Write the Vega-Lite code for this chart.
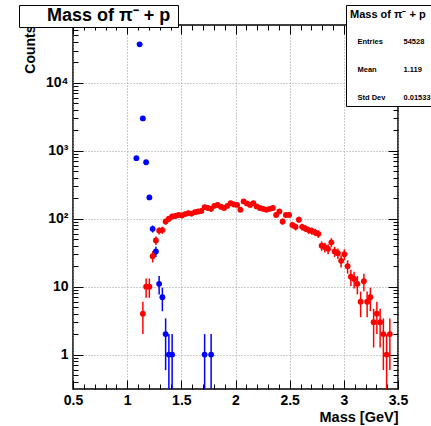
{
  "$schema": "https://vega.github.io/schema/vega-lite/v6.json",
  "width": 325,
  "height": 364,
  "autosize": "none",
  "padding": {"left": 73, "top": 25, "right": 33, "bottom": 37},
  "background": "white",
  "config": {"view": {"stroke": "black", "strokeWidth": 1.5}, "font": "Liberation Sans"},
  "datasets": {
    "hist": [
      {"s": "blue", "m": 1.085, "n": 780, "lo": 752.1, "hi": 807.9},
      {"s": "blue", "m": 1.115, "n": 37000, "lo": 36807.6, "hi": 37192.4},
      {"s": "blue", "m": 1.145, "n": 3000, "lo": 2945.2, "hi": 3054.8},
      {"s": "blue", "m": 1.175, "n": 680, "lo": 653.9, "hi": 706.1},
      {"s": "blue", "m": 1.205, "n": 206, "lo": 191.6, "hi": 220.4},
      {"s": "blue", "m": 1.235, "n": 71, "lo": 62.57, "hi": 79.43},
      {"s": "blue", "m": 1.265, "n": 33, "lo": 27.26, "hi": 38.74},
      {"s": "blue", "m": 1.295, "n": 11, "lo": 7.68, "hi": 14.32},
      {"s": "blue", "m": 1.325, "n": 7, "lo": 4.35, "hi": 9.65},
      {"s": "blue", "m": 1.355, "n": 2, "lo": 0.59, "hi": 3.41},
      {"s": "blue", "m": 1.385, "n": 1, "lo": 0, "hi": 2},
      {"s": "blue", "m": 1.415, "n": 1, "lo": 0, "hi": 2},
      {"s": "blue", "m": 1.715, "n": 1, "lo": 0, "hi": 2},
      {"s": "blue", "m": 1.775, "n": 1, "lo": 0, "hi": 2},
      {"s": "red", "m": 1.145, "n": 4, "lo": 2, "hi": 6},
      {"s": "red", "m": 1.175, "n": 10, "lo": 6.84, "hi": 13.16},
      {"s": "red", "m": 1.205, "n": 10, "lo": 6.84, "hi": 13.16},
      {"s": "red", "m": 1.235, "n": 28, "lo": 22.71, "hi": 33.29},
      {"s": "red", "m": 1.265, "n": 48, "lo": 41.07, "hi": 54.93},
      {"s": "red", "m": 1.295, "n": 67, "lo": 58.81, "hi": 75.19},
      {"s": "red", "m": 1.325, "n": 68, "lo": 59.75, "hi": 76.25},
      {"s": "red", "m": 1.355, "n": 91, "lo": 81.46, "hi": 100.54},
      {"s": "red", "m": 1.385, "n": 100, "lo": 90, "hi": 110},
      {"s": "red", "m": 1.415, "n": 108, "lo": 97.61, "hi": 118.39},
      {"s": "red", "m": 1.445, "n": 110, "lo": 99.51, "hi": 120.49},
      {"s": "red", "m": 1.475, "n": 114, "lo": 103.32, "hi": 124.68},
      {"s": "red", "m": 1.505, "n": 112, "lo": 101.42, "hi": 122.58},
      {"s": "red", "m": 1.535, "n": 117, "lo": 106.18, "hi": 127.82},
      {"s": "red", "m": 1.565, "n": 121, "lo": 110, "hi": 132},
      {"s": "red", "m": 1.595, "n": 119, "lo": 108.09, "hi": 129.91},
      {"s": "red", "m": 1.625, "n": 125, "lo": 113.82, "hi": 136.18},
      {"s": "red", "m": 1.655, "n": 128, "lo": 116.69, "hi": 139.31},
      {"s": "red", "m": 1.685, "n": 130, "lo": 118.6, "hi": 141.4},
      {"s": "red", "m": 1.715, "n": 148, "lo": 135.83, "hi": 160.17},
      {"s": "red", "m": 1.745, "n": 144, "lo": 132, "hi": 156},
      {"s": "red", "m": 1.775, "n": 140, "lo": 128.17, "hi": 151.83},
      {"s": "red", "m": 1.805, "n": 155, "lo": 142.55, "hi": 167.45},
      {"s": "red", "m": 1.835, "n": 160, "lo": 147.35, "hi": 172.65},
      {"s": "red", "m": 1.865, "n": 150, "lo": 137.75, "hi": 162.25},
      {"s": "red", "m": 1.895, "n": 144, "lo": 132, "hi": 156},
      {"s": "red", "m": 1.925, "n": 155, "lo": 142.55, "hi": 167.45},
      {"s": "red", "m": 1.955, "n": 170, "lo": 156.96, "hi": 183.04},
      {"s": "red", "m": 1.985, "n": 162, "lo": 149.27, "hi": 174.73},
      {"s": "red", "m": 2.015, "n": 160, "lo": 147.35, "hi": 172.65},
      {"s": "red", "m": 2.045, "n": 136, "lo": 124.34, "hi": 147.66},
      {"s": "red", "m": 2.075, "n": 180, "lo": 166.58, "hi": 193.42},
      {"s": "red", "m": 2.105, "n": 168, "lo": 155.04, "hi": 180.96},
      {"s": "red", "m": 2.135, "n": 160, "lo": 147.35, "hi": 172.65},
      {"s": "red", "m": 2.165, "n": 170, "lo": 156.96, "hi": 183.04},
      {"s": "red", "m": 2.195, "n": 152, "lo": 139.67, "hi": 164.33},
      {"s": "red", "m": 2.225, "n": 144, "lo": 132, "hi": 156},
      {"s": "red", "m": 2.255, "n": 140, "lo": 128.17, "hi": 151.83},
      {"s": "red", "m": 2.285, "n": 136, "lo": 124.34, "hi": 147.66},
      {"s": "red", "m": 2.315, "n": 140, "lo": 128.17, "hi": 151.83},
      {"s": "red", "m": 2.345, "n": 144, "lo": 132, "hi": 156},
      {"s": "red", "m": 2.375, "n": 114, "lo": 103.32, "hi": 124.68},
      {"s": "red", "m": 2.405, "n": 128, "lo": 116.69, "hi": 139.31},
      {"s": "red", "m": 2.435, "n": 91, "lo": 81.46, "hi": 100.54},
      {"s": "red", "m": 2.465, "n": 114, "lo": 103.32, "hi": 124.68},
      {"s": "red", "m": 2.495, "n": 114, "lo": 103.32, "hi": 124.68},
      {"s": "red", "m": 2.525, "n": 81, "lo": 72, "hi": 90},
      {"s": "red", "m": 2.555, "n": 76, "lo": 67.28, "hi": 84.72},
      {"s": "red", "m": 2.585, "n": 97, "lo": 87.15, "hi": 106.85},
      {"s": "red", "m": 2.615, "n": 76, "lo": 67.28, "hi": 84.72},
      {"s": "red", "m": 2.645, "n": 72, "lo": 63.51, "hi": 80.49},
      {"s": "red", "m": 2.675, "n": 68, "lo": 59.75, "hi": 76.25},
      {"s": "red", "m": 2.705, "n": 66, "lo": 57.88, "hi": 74.12},
      {"s": "red", "m": 2.735, "n": 63, "lo": 55.06, "hi": 70.94},
      {"s": "red", "m": 2.765, "n": 60, "lo": 52.25, "hi": 67.75},
      {"s": "red", "m": 2.795, "n": 40, "lo": 33.68, "hi": 46.32},
      {"s": "red", "m": 2.825, "n": 38, "lo": 31.84, "hi": 44.16},
      {"s": "red", "m": 2.855, "n": 36, "lo": 30, "hi": 42},
      {"s": "red", "m": 2.885, "n": 45, "lo": 38.29, "hi": 51.71},
      {"s": "red", "m": 2.915, "n": 33, "lo": 27.26, "hi": 38.74},
      {"s": "red", "m": 2.945, "n": 31, "lo": 25.43, "hi": 36.57},
      {"s": "red", "m": 2.975, "n": 24, "lo": 19.1, "hi": 28.9},
      {"s": "red", "m": 3.005, "n": 30, "lo": 24.52, "hi": 35.48},
      {"s": "red", "m": 3.035, "n": 20, "lo": 15.53, "hi": 24.47},
      {"s": "red", "m": 3.065, "n": 14, "lo": 10.26, "hi": 17.74},
      {"s": "red", "m": 3.095, "n": 13, "lo": 9.39, "hi": 16.61},
      {"s": "red", "m": 3.125, "n": 11, "lo": 7.68, "hi": 14.32},
      {"s": "red", "m": 3.155, "n": 6, "lo": 3.55, "hi": 8.45},
      {"s": "red", "m": 3.185, "n": 12, "lo": 8.54, "hi": 15.46},
      {"s": "red", "m": 3.215, "n": 6, "lo": 3.55, "hi": 8.45},
      {"s": "red", "m": 3.245, "n": 7, "lo": 4.35, "hi": 9.65},
      {"s": "red", "m": 3.275, "n": 3, "lo": 1.27, "hi": 4.73},
      {"s": "red", "m": 3.305, "n": 4, "lo": 2, "hi": 6},
      {"s": "red", "m": 3.335, "n": 3, "lo": 1.27, "hi": 4.73},
      {"s": "red", "m": 3.365, "n": 2, "lo": 0.59, "hi": 3.41},
      {"s": "red", "m": 3.395, "n": 1, "lo": 0, "hi": 2},
      {"s": "red", "m": 3.425, "n": 2, "lo": 0.59, "hi": 3.41}
    ],
    "ttl": [{"t": "Mass of  π⁻ + p"}],
    "stats": [{"k": "Entries"}, {"k": "54528"}, {"k": "Mean"}, {"k": "1.119"}, {"k": "Std Dev"}, {"k": "0.01533"}]
  },
  "layer": [
    {
      "data": {"name": "hist"},
      "mark": {"type": "rule", "strokeWidth": 1.5, "clip": true},
      "encoding": {
        "x": {
          "field": "m", "type": "quantitative",
          "scale": {"domain": [0.5, 3.5], "nice": false, "zero": false},
          "axis": {
            "orient": "bottom", "values": [0.5, 1, 1.5, 2, 2.5, 3, 3.5],
            "ticks": false, "domain": false, "grid": true,
            "gridColor": "#9a9a9a", "gridDash": [1, 2], "gridWidth": 1,
            "labelFont": "Liberation Sans", "labelFontWeight": "bold", "labelFontSize": 14,
            "labelColor": "black", "labelPadding": 4, "labelFlush": false, "labelOverlap": false,
            "format": ".1~f",
            "title": "Mass [GeV]", "titleFont": "Liberation Sans", "titleFontSize": 14.5,
            "titleFontWeight": "bold", "titleColor": "black", "titleAnchor": "end", "titlePadding": 3
          }
        },
        "y": {
          "field": "lo", "type": "quantitative",
          "scale": {"type": "log", "domain": [0.311, 71300], "nice": false, "clamp": true},
          "axis": {
            "orient": "left", "values": [1, 10, 100, 1000, 10000],
            "ticks": false, "domain": false, "grid": true,
            "gridColor": "#9a9a9a", "gridDash": [1, 2], "gridWidth": 1,
            "labelExpr": "datum.value == 1 ? '1' : datum.value == 10 ? '10' : datum.value == 100 ? '10²' : datum.value == 1000 ? '10³' : '10⁴'",
            "labelFont": "Liberation Sans", "labelFontWeight": "bold", "labelFontSize": 14,
            "labelColor": "black", "labelPadding": 5, "labelFlush": false, "labelOverlap": false,
            "title": "Counts", "titleFont": "Liberation Sans", "titleFontSize": 14,
            "titleFontWeight": "bold", "titleColor": "black", "titleAnchor": "end", "titlePadding": 8
          }
        },
        "y2": {"field": "hi"},
        "color": {"field": "s", "type": "nominal", "scale": {"domain": ["blue", "red"], "range": ["#0000ff", "#ff0000"]}, "legend": null}
      }
    },
    {
      "data": {"name": "hist"},
      "mark": {"type": "point", "filled": true, "size": 34, "opacity": 1, "clip": true},
      "encoding": {
        "x": {
          "field": "m", "type": "quantitative",
          "axis": {
            "orient": "bottom",
            "values": [0.5,0.6,0.7,0.8,0.9,1,1.1,1.2,1.3,1.4,1.5,1.6,1.7,1.8,1.9,2,2.1,2.2,2.3,2.4,2.5,2.6,2.7,2.8,2.9,3,3.1,3.2,3.3,3.4,3.5],
            "labels": false, "grid": false, "domain": false, "title": null,
            "ticks": true, "tickColor": "black", "tickWidth": 1,
            "tickSize": {"condition": {"test": "abs(datum.value*2 - round(datum.value*2)) < 0.001", "value": -9}, "value": -5}
          }
        },
        "y": {
          "field": "n", "type": "quantitative",
          "axis": {
            "orient": "left",
            "values": [0.4,0.5,0.6,0.7,0.8,0.9,1,2,3,4,5,6,7,8,9,10,20,30,40,50,60,70,80,90,100,200,300,400,500,600,700,800,900,1000,2000,3000,4000,5000,6000,7000,8000,9000,10000,20000,30000,40000,50000,60000,70000],
            "labels": false, "grid": false, "domain": false, "title": null,
            "ticks": true, "tickColor": "black", "tickWidth": 1,
            "tickSize": {"condition": {"test": "abs(log(datum.value)/LN10 - round(log(datum.value)/LN10)) < 0.001", "value": -10}, "value": -5}
          }
        },
        "color": {"field": "s", "type": "nominal", "legend": null}
      }
    },
    {
      "data": {"name": "hist"},
      "mark": {"type": "point", "filled": true, "size": 34, "opacity": 0},
      "encoding": {
        "x": {
          "field": "m", "type": "quantitative",
          "axis": {
            "orient": "top",
            "values": [0.5,0.6,0.7,0.8,0.9,1,1.1,1.2,1.3,1.4,1.5,1.6,1.7,1.8,1.9,2,2.1,2.2,2.3,2.4,2.5,2.6,2.7,2.8,2.9,3,3.1,3.2,3.3,3.4,3.5],
            "labels": false, "grid": false, "domain": false, "title": null,
            "ticks": true, "tickColor": "black", "tickWidth": 1,
            "tickSize": {"condition": {"test": "abs(datum.value*2 - round(datum.value*2)) < 0.001", "value": -9}, "value": -5}
          }
        },
        "y": {
          "field": "n", "type": "quantitative",
          "axis": {
            "orient": "right",
            "values": [0.4,0.5,0.6,0.7,0.8,0.9,1,2,3,4,5,6,7,8,9,10,20,30,40,50,60,70,80,90,100,200,300,400,500,600,700,800,900,1000,2000,3000,4000,5000,6000,7000,8000,9000,10000,20000,30000,40000,50000,60000,70000],
            "labels": false, "grid": false, "domain": false, "title": null,
            "ticks": true, "tickColor": "black", "tickWidth": 1,
            "tickSize": {"condition": {"test": "abs(log(datum.value)/LN10 - round(log(datum.value)/LN10)) < 0.001", "value": -10}, "value": -5}
          }
        }
      }
    },
    {
      "data": {"name": "ttl"},
      "mark": {"type": "point", "opacity": 0},
      "encoding": {
        "shape": {
          "field": "t", "type": "nominal",
          "legend": {
            "title": null, "orient": "none", "legendX": -54, "legendY": -20,
            "strokeColor": "black", "fillColor": "white", "padding": 2,
            "labelFont": "Liberation Sans", "labelFontSize": 18, "labelFontWeight": "bold", "labelColor": "black",
            "labelExpr": "datum.label + '\u00a0\u00a0'",
            "symbolOpacity": 0, "symbolSize": 0, "symbolStrokeWidth": 0, "labelOffset": 8, "labelLimit": 0
          }
        }
      }
    },
    {
      "data": {"name": "stats"},
      "mark": {"type": "point", "opacity": 0},
      "encoding": {
        "strokeDash": {
          "field": "k", "type": "nominal",
          "scale": {"domain": ["Entries", "Mean", "Std Dev", "54528", "1.119", "0.01533"]},
          "legend": {
            "title": "Mass of π⁻ + p", "orient": "none", "legendX": 273, "legendY": -20,
            "columns": 2, "direction": "vertical",
            "strokeColor": "black", "fillColor": "white", "padding": 4,
            "titleFont": "Liberation Sans", "titleFontSize": 11, "titleFontWeight": "bold", "titleColor": "black",
            "titlePadding": 18,
            "labelFont": "Liberation Sans", "labelFontSize": 7.5, "labelFontWeight": "bold", "labelColor": "black",
            "rowPadding": 19, "columnPadding": 10,
            "symbolOpacity": 0, "symbolSize": 0, "symbolStrokeWidth": 0, "labelOffset": 0, "labelLimit": 0
          }
        }
      }
    }
  ],
  "resolve": {"axis": {"x": "independent", "y": "independent"}}
}
